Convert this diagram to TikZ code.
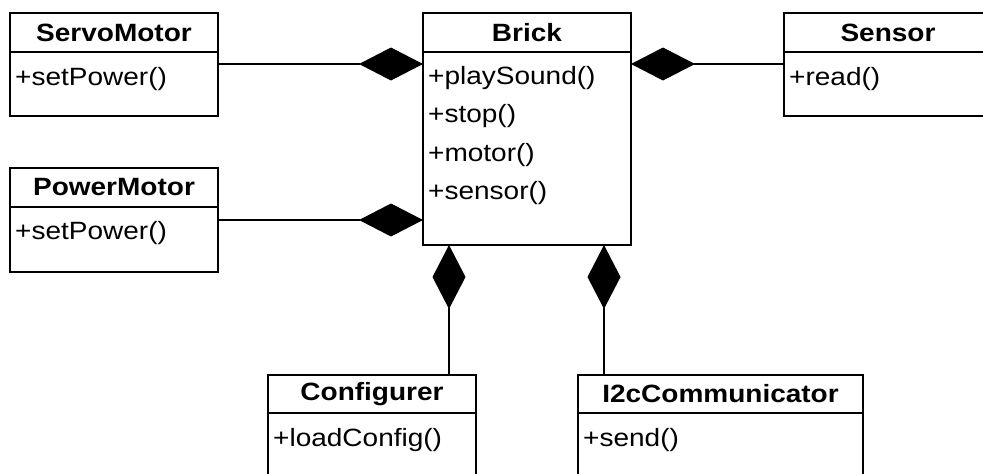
\documentclass[tikz,border=0pt]{standalone}
\usepackage{fontspec}
\setmainfont[FakeStretch=1.12]{Liberation Sans}
\usetikzlibrary{positioning,arrows.meta}

\tikzset{
  umlhead/.style={draw, line width=1.2pt, minimum width=208pt, minimum height=39pt,
    inner sep=0pt, outer sep=0pt, font=\fontsize{25}{30}\selectfont\bfseries},
  umlbody/.style={draw, line width=1.2pt, minimum width=208pt,
    inner sep=0pt, outer sep=0pt},
  umlop/.style={anchor=west, inner sep=5pt, font=\fontsize{25}{30}\selectfont},
  compo/.style={line width=1.2pt, -{Diamond[length=64pt, width=33pt]}}
}

\begin{document}
\begin{tikzpicture}[x=1pt, y=-1pt]

  % cadre de l'image
  \clip (0,0) rectangle (983,474);

  % ==========================================
  % CLASSES DU HAUT
  % ==========================================
  \node[umlhead] (servoH) at (114,32.5) {ServoMotor};
  \node[umlbody, minimum height=64pt, below=0pt of servoH] (servoB) {};
  \node[umlop] (servoOp) at ([yshift=-27pt]servoB.north west) {+setPower()};

  \node[umlhead] (brickH) at (527,32.5) {Brick};
  \node[umlbody, minimum height=193pt, below=0pt of brickH] (brickB) {};
  \foreach \op [count=\i] in {playSound,stop,motor,sensor}
    \node[umlop] (brickOp\i) at ([yshift={-26-38.5*(\i-1)}]brickB.north west) {+\op()};

  \node[umlhead] (sensorH) at (888,32.5) {Sensor};
  \node[umlbody, minimum height=64pt, below=0pt of sensorH] (sensorB) {};
  \node[umlop] (sensorOp) at ([yshift=-27pt]sensorB.north west) {+read()};

  \node[umlhead] (powerH) at (114,187.5) {PowerMotor};
  \node[umlbody, minimum height=65pt, below=0pt of powerH] (powerB) {};
  \node[umlop] (powerOp) at ([yshift=-26pt]powerB.north west) {+setPower()};

  % ==========================================
  % CLASSES DU BAS
  % ==========================================
  \node[umlhead, minimum height=38pt] (confH) at (372,394) {Configurer};
  \node[umlbody, minimum height=65pt, below=0pt of confH] (confB) {};
  \node[umlop] (confOp) at ([yshift=-27pt]confB.north west) {+loadConfig()};

  \node[umlhead, minimum height=38pt, minimum width=285pt] (i2cH) at (720.5,394) {I2cCommunicator};
  \node[umlbody, minimum height=65pt, minimum width=285pt, below=0pt of i2cH] (i2cB) {};
  \node[umlop] (i2cOp) at ([yshift=-27pt]i2cB.north west) {+send()};

  % ==========================================
  % COMPOSITIONS
  % ==========================================
  \coordinate (servoC) at ([yshift=-12pt]servoB.north east);
  \coordinate (powerC) at ([yshift=-13pt]powerB.north east);
  \coordinate (sensorC) at ([yshift=-12pt]sensorB.north west);
  \coordinate (confC) at ([xshift=77pt]confH.north);
  \coordinate (i2cC) at ([xshift=-116.5pt]i2cH.north);

  \draw[compo] (servoC) -- (servoC -| brickB.west);
  \draw[compo] (powerC) -- (powerC -| brickB.west);
  \draw[compo] (sensorC) -- (sensorC -| brickB.east);
  \draw[compo] (confC) -- (confC |- brickB.south);
  \draw[compo] (i2cC) -- (i2cC |- brickB.south);

\end{tikzpicture}
\end{document}
